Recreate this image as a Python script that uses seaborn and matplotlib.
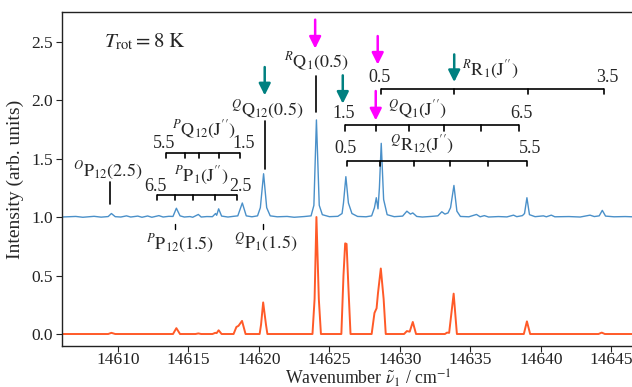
import matplotlib
matplotlib.use("Agg")
import matplotlib.pyplot as plt
import seaborn as sns
import pandas as pd

# ---------------- data ----------------
blue_x = [14606.0, 14607.0, 14607.5, 14608.3, 14608.8, 14609.3, 14609.53, 14609.8, 14610.2, 14610.6,
          14610.9, 14611.4, 14611.7, 14612.1, 14612.4, 14612.9, 14613.2, 14613.6, 14613.9, 14614.14,
          14614.4, 14614.7, 14615.1, 14615.3, 14615.70, 14615.9, 14616.3, 14616.7, 14616.92, 14617.0,
          14617.14, 14617.35, 14617.8, 14618.2, 14618.5, 14618.82, 14619.1, 14619.5, 14619.9, 14620.1,
          14620.33, 14620.55, 14620.8, 14621.3, 14622.0, 14622.5, 14623.2, 14623.7, 14623.9, 14624.08,
          14624.28, 14624.5, 14625.0, 14625.6, 14625.9, 14626.0, 14626.17, 14626.35, 14626.6, 14627.0,
          14627.6, 14628.0, 14628.2, 14628.33, 14628.45, 14628.55, 14628.68, 14628.85, 14629.1, 14629.6,
          14630.2, 14630.5, 14630.75, 14630.92, 14631.2, 14631.6, 14632.2, 14632.7, 14632.98, 14633.2,
          14633.42, 14633.6, 14633.84, 14634.05, 14634.3, 14634.9, 14635.44, 14635.7, 14636.0, 14636.3,
          14637.0, 14637.6, 14638.07, 14638.3, 14638.7, 14638.85, 14639.02, 14639.2, 14639.6, 14640.19,
          14640.4, 14640.75, 14641.0, 14642.0, 14642.8, 14643.5, 14643.8, 14644.15, 14644.37, 14644.6,
          14645.2, 14646.0, 14647.0, 14648.0, 14649.6]
blue_y = [1.000, 1.005, 0.998, 1.006, 0.999, 1.004, 1.030, 1.003, 1.000, 1.010,
          1.000, 1.008, 0.998, 1.009, 0.998, 1.012, 1.000, 1.006, 1.005, 1.075,
          1.010, 1.000, 1.004, 0.998, 1.022, 1.000, 1.004, 1.003, 1.030, 1.015,
          1.070, 1.008, 1.000, 1.006, 1.010, 1.120, 1.010, 1.002, 1.010, 1.080,
          1.370, 1.080, 1.010, 1.002, 1.005, 0.998, 1.004, 1.010, 1.100, 1.830,
          1.100, 1.020, 1.003, 1.006, 1.030, 1.120, 1.345, 1.120, 1.030, 1.005,
          1.002, 1.010, 1.080, 1.165, 1.070, 1.250, 1.630, 1.150, 1.020, 1.003,
          1.008, 1.050, 1.025, 1.035, 1.005, 1.000, 1.005, 1.010, 1.045, 1.025,
          1.035, 1.080, 1.270, 1.050, 1.005, 1.002, 1.022, 1.002, 1.012, 1.000,
          1.004, 1.001, 1.016, 1.003, 1.012, 1.030, 1.165, 1.020, 1.003, 1.010,
          1.002, 1.016, 1.002, 1.004, 1.000, 1.016, 1.004, 1.010, 1.057, 1.008,
          1.002, 1.004, 1.000, 1.003, 1.000]

red_x = [14606.0, 14609.3, 14609.53, 14609.8, 14613.9, 14614.14, 14614.4, 14615.5, 14615.70, 14615.9,
         14616.7, 14616.9, 14617.0, 14617.14, 14617.35, 14618.2, 14618.4, 14618.55, 14618.8, 14619.05,
         14620.05, 14620.15, 14620.3, 14620.5, 14620.6, 14623.8, 14623.95, 14624.08, 14624.25, 14624.4,
         14625.85, 14626.0, 14626.12, 14626.22, 14626.35, 14626.5, 14628.0, 14628.2, 14628.35, 14628.45,
         14628.65, 14628.85, 14629.0, 14630.3, 14630.5, 14630.7, 14630.92, 14631.15, 14633.2, 14633.35,
         14633.5, 14633.82, 14634.05, 14638.8, 14639.02, 14639.25, 14644.1, 14644.33, 14644.55, 14649.6]
red_y = [0.0, 0.0, 0.010, 0.0, 0.0, 0.050, 0.0, 0.0, 0.005, 0.0,
         0.0, 0.010, 0.008, 0.032, 0.0, 0.0, 0.060, 0.070, 0.112, 0.0,
         0.0, 0.080, 0.270, 0.080, 0.0, 0.0, 0.300, 1.000, 0.300, 0.0,
         0.0, 0.500, 0.775, 0.770, 0.400, 0.0, 0.0, 0.180, 0.220, 0.350,
         0.560, 0.300, 0.0, 0.0, 0.025, 0.020, 0.103, 0.0, 0.0, 0.012,
         0.010, 0.345, 0.0, 0.0, 0.108, 0.0, 0.0, 0.012, 0.0, 0.0]

# combs: J'' line positions (cm^-1)
comb_PQ12 = [14613.40, 14614.73, 14615.77, 14617.16, 14618.69]
comb_PP1 = [14612.79, 14614.04, 14615.34, 14616.85, 14618.46]
comb_RR1 = [14628.69, 14633.86, 14639.09, 14644.50]
comb_QQ1 = [14626.14, 14628.33, 14630.65, 14633.10, 14635.73, 14638.45]
comb_QR12 = [14626.26, 14628.57, 14630.98, 14633.53, 14636.25, 14639.06]

magenta_arrows = [14623.99, 14628.43, 14628.29]
teal_arrows = [14620.41, 14633.86, 14625.95]

x_ticks = [14610, 14615, 14620, 14625, 14630, 14635, 14640, 14645]
y_ticks = [0.0, 0.5, 1.0, 1.5, 2.0, 2.5]

# ---------------- style ----------------
sns.set_style("ticks")
plt.rcParams["font.family"] = ["Liberation Serif", "DejaVu Serif"]
plt.rcParams["mathtext.fontset"] = "stix"

BLUE = "#4a90c9"
RED = "#ff5a28"
MAG = "#ff00ff"
TEAL = "#008080"

fig = plt.figure(figsize=(6.32, 3.87), dpi=100)
# axes extends beyond the right edge of the picture (cropped as in the reference)
ax = fig.add_axes([0.0976, 0.1067, 0.972, 0.8615])

df_b = pd.DataFrame({"x": blue_x, "y": blue_y})
df_r = pd.DataFrame({"x": red_x, "y": red_y})
sns.lineplot(data=df_b, x="x", y="y", ax=ax, color=BLUE, lw=1.0, estimator=None, sort=False)
sns.lineplot(data=df_r, x="x", y="y", ax=ax, color=RED, lw=1.4, estimator=None, sort=False)

ax.set_xlim(14606, 14649.6)
ax.set_ylim(-0.1, 2.75)
ax.set_xticks(x_ticks)
ax.set_yticks(y_ticks)
ax.set_xticklabels([str(t) for t in x_ticks])
ax.set_yticklabels([f"{t:.1f}" for t in y_ticks])
ax.tick_params(labelsize=12.5, direction="out", length=4, width=0.8, colors="#222222", pad=2.5)
ax.tick_params(axis="x", pad=0.5)
ax.set_xlabel(r"Wavenumber $\tilde{\nu}_1$ / cm$^{-1}$", fontsize=12.8)
ax.set_ylabel("Intensity (arb. units)", fontsize=14)
ax.xaxis.label.set_va("center")
ax.xaxis.set_label_coords(0.5, -0.098)
ax.yaxis.label.set_va("center")
ax.yaxis.set_label_coords(-0.076, 0.5)
for s in ax.spines.values():
    s.set_linewidth(1.0)
    s.set_color("#222222")

FS = 13
tick_len = 0.045


def comb(pos, y, left_lab, right_lab, title, tx, ty, ny):
    ax.plot([pos[0], pos[-1]], [y, y], color="k", lw=1.2, solid_capstyle="butt")
    for p in pos:
        ax.plot([p, p], [y, y - tick_len], color="k", lw=1.2)
    ax.text(pos[0] - 0.15, ny, left_lab, ha="center", va="center", fontsize=FS)
    ax.text(pos[-1] + 0.2, ny, right_lab, ha="center", va="center", fontsize=FS)
    ax.text(tx, ty, title, ha="center", va="center", fontsize=FS)


comb(comb_PQ12, 1.547, "5.5", "1.5", r"${}^{P}\mathrm{Q}_{12}(\mathrm{J}^{\prime\prime})$", 14616.07, 1.745, 1.632)
comb(comb_PP1, 1.191, "6.5", "2.5", r"${}^{P}\mathrm{P}_{1}(\mathrm{J}^{\prime\prime})$", 14615.88, 1.348, 1.262)
comb(comb_RR1, 2.097, "0.5", "3.5", r"${}^{R}\mathrm{R}_{1}(\mathrm{J}^{\prime\prime})$", 14636.41, 2.254, 2.19)
comb(comb_QQ1, 1.784, "1.5", "6.5", r"${}^{Q}\mathrm{Q}_{1}(\mathrm{J}^{\prime\prime})$", 14631.22, 1.912, 1.889)
comb(comb_QR12, 1.479, "0.5", "5.5", r"${}^{Q}\mathrm{R}_{12}(\mathrm{J}^{\prime\prime})$", 14631.57, 1.613, 1.585)


# single line labels
def single(x, y0, y1, label, tx, ty, lw=1.2):
    ax.plot([x, x], [y0, y1], color="k", lw=lw)
    ax.text(tx, ty, label, ha="center", va="center", fontsize=FS)


single(14609.43, 1.115, 1.299, r"${}^{O}\mathrm{P}_{12}(2.5)$", 14609.25, 1.397)
single(14614.04, 0.901, 0.938, r"${}^{P}\mathrm{P}_{12}(1.5)$", 14614.44, 0.773, lw=1.0)
single(14620.26, 0.901, 0.938, r"${}^{Q}\mathrm{P}_{1}(1.5)$", 14620.47, 0.775, lw=1.0)
single(14620.40, 1.414, 1.821, r"${}^{Q}\mathrm{Q}_{12}(0.5)$", 14620.59, 1.912)
single(14624.03, 1.897, 2.203, r"${}^{R}\mathrm{Q}_{1}(0.5)$", 14624.08, 2.322)

ax.text(14608.99, 2.496, r"$T_{\mathrm{rot}} = 8\ \mathrm{K}$", ha="left", va="center", fontsize=15)

# arrows
mag_y = [(2.687, 2.44), (2.547, 2.303), (2.077, 1.826)]
teal_y = [(2.282, 2.04), (2.39, 2.154), (2.211, 1.969)]
for xs, ys, col in [(magenta_arrows, mag_y, MAG), (teal_arrows, teal_y, TEAL)]:
    for x, (ya, yb) in zip(xs, ys):
        ax.annotate("", xy=(x, yb), xytext=(x, ya),
                    arrowprops=dict(arrowstyle="-|>,head_width=0.35,head_length=0.7",
                                    lw=1.8, color=col, shrinkA=0, shrinkB=0))

fig.savefig("out.png", dpi=100)
